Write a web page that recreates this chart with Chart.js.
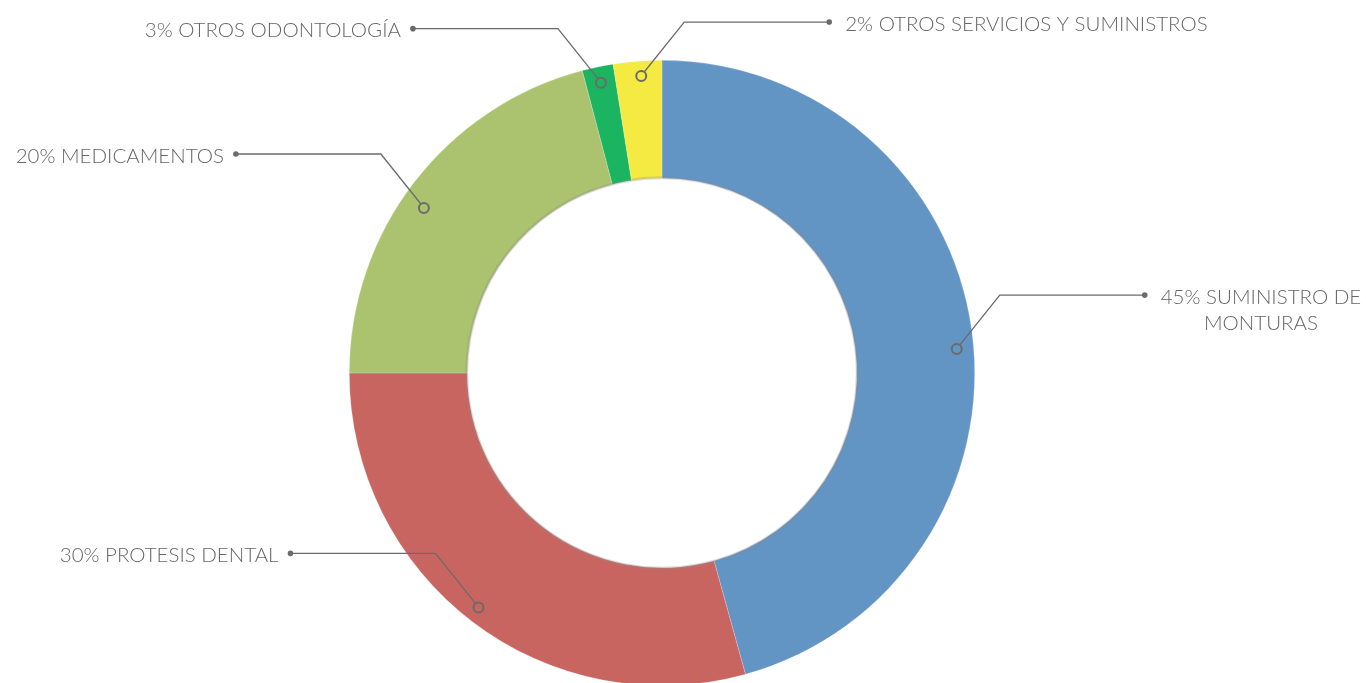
<!DOCTYPE html>
<html>
<head>
<meta charset="utf-8">
<script src="https://cdn.jsdelivr.net/npm/chart.js@4/dist/chart.umd.min.js"></script>
<style>
    html, body { margin: 0; padding: 0; background: #fff; overflow: hidden; }
    #wrap { width: 1366px; height: 700px; }
</style>
</head>
<body>
<div id="wrap"><canvas id="chart" width="1366" height="700"></canvas></div>
<script>
// slice names, shares and the printed labels
const categories = ['Suministro de monturas', 'Protesis dental', 'Medicamentos', 'Otros odontología', 'Otros servicios y suministros'];
const shares = [45.7, 29.3, 20.9, 1.6, 2.5];
const labelLines = [
    ['45% SUMINISTRO DE', 'MONTURAS'],
    ['30% PROTESIS DENTAL'],
    ['20% MEDICAMENTOS'],
    ['3% OTROS ODONTOLOGÍA'],
    ['2% OTROS SERVICIOS Y SUMINISTROS'],
];
const sliceColors = ['#6294C4', '#C96560', '#ABC36E', '#1BB460', '#F5EA41'];

const FONT = '300 20.5px Lato, "Open Sans", sans-serif';
const LINE_COLOR = '#6b6b6b';

// leader lines: small ring on the slice, diagonal up and out, then horizontal to a dot
const leaderLabels = {
    id: 'leaderLabels',
    afterDatasetsDraw(chart, args, opts) {
        const ctx = chart.ctx;
        const meta = chart.getDatasetMeta(0);
        const first = meta.data[0];

        // soft grey edge round the hole
        ctx.save();
        ctx.beginPath();
        ctx.arc(first.x, first.y, first.innerRadius + 0.5, 0, Math.PI * 2);
        ctx.strokeStyle = 'rgba(140,140,140,0.3)';
        ctx.lineWidth = 3;
        ctx.stroke();
        ctx.restore();

        meta.data.forEach((arc, i) => {
            // Excel doesn't sit the ring exactly on the mid angle, nudge a bit
            const mid = (arc.startAngle + arc.endAngle) / 2 + opts.nudge[i] * Math.PI / 180;
            const r = arc.outerRadius - opts.inset[i];
            const mx = arc.x + Math.cos(mid) * r;
            const my = arc.y + Math.sin(mid) * r;
            const dir = opts.sides[i] === 'right' ? 1 : -1;
            const ex = mx + dir * 43;
            const ey = my - 54;
            const dx = ex + dir * 145;

            ctx.save();
            ctx.strokeStyle = LINE_COLOR;
            ctx.lineWidth = 1.3;
            ctx.beginPath();
            ctx.moveTo(mx + dir * 3, my - 4);
            ctx.lineTo(ex, ey);
            ctx.lineTo(dx, ey);
            ctx.stroke();

            ctx.beginPath();
            ctx.arc(mx, my, 5, 0, Math.PI * 2);
            ctx.lineWidth = 2;
            ctx.stroke();

            ctx.beginPath();
            ctx.arc(dx, ey, 2.8, 0, Math.PI * 2);
            ctx.fillStyle = LINE_COLOR;
            ctx.fill();

            ctx.font = FONT;
            ctx.fillStyle = '#666666';
            ctx.textBaseline = 'middle';
            const lines = labelLines[i];
            const widest = Math.max(...lines.map(t => ctx.measureText(t).width));
            const startX = dir === 1 ? dx + 16 : dx - 12 - widest;
            lines.forEach((t, k) => {
                ctx.textAlign = 'center';
                ctx.fillText(t, startX + widest / 2, ey + 2 + k * 26);
            });
            ctx.restore();
        });
    }
};

new Chart(document.getElementById('chart'), {
    type: 'doughnut',
    data: {
        labels: categories,
        datasets: [{
            data: shares,
            backgroundColor: sliceColors,
            borderColor: 'rgba(255,255,255,0.35)',
            borderWidth: 0.6,
            hoverOffset: 0,
        }]
    },
    options: {
        responsive: false,
        animation: false,
        cutout: '62.3%',
        layout: {
            padding: { left: 349, right: 391, top: 60, bottom: 14 }
        },
        events: [],
        plugins: {
            legend: { display: false },
            tooltip: { enabled: false },
            leaderLabels: {
                sides: ['right', 'left', 'left', 'left', 'right'],
                nudge: [3.1, 0.8, -2.9, 0, 0.5],
                inset: [17, 15, 23, 16, 15],
            },
        }
    },
    plugins: [leaderLabels]
});
</script>
</body>
</html>
